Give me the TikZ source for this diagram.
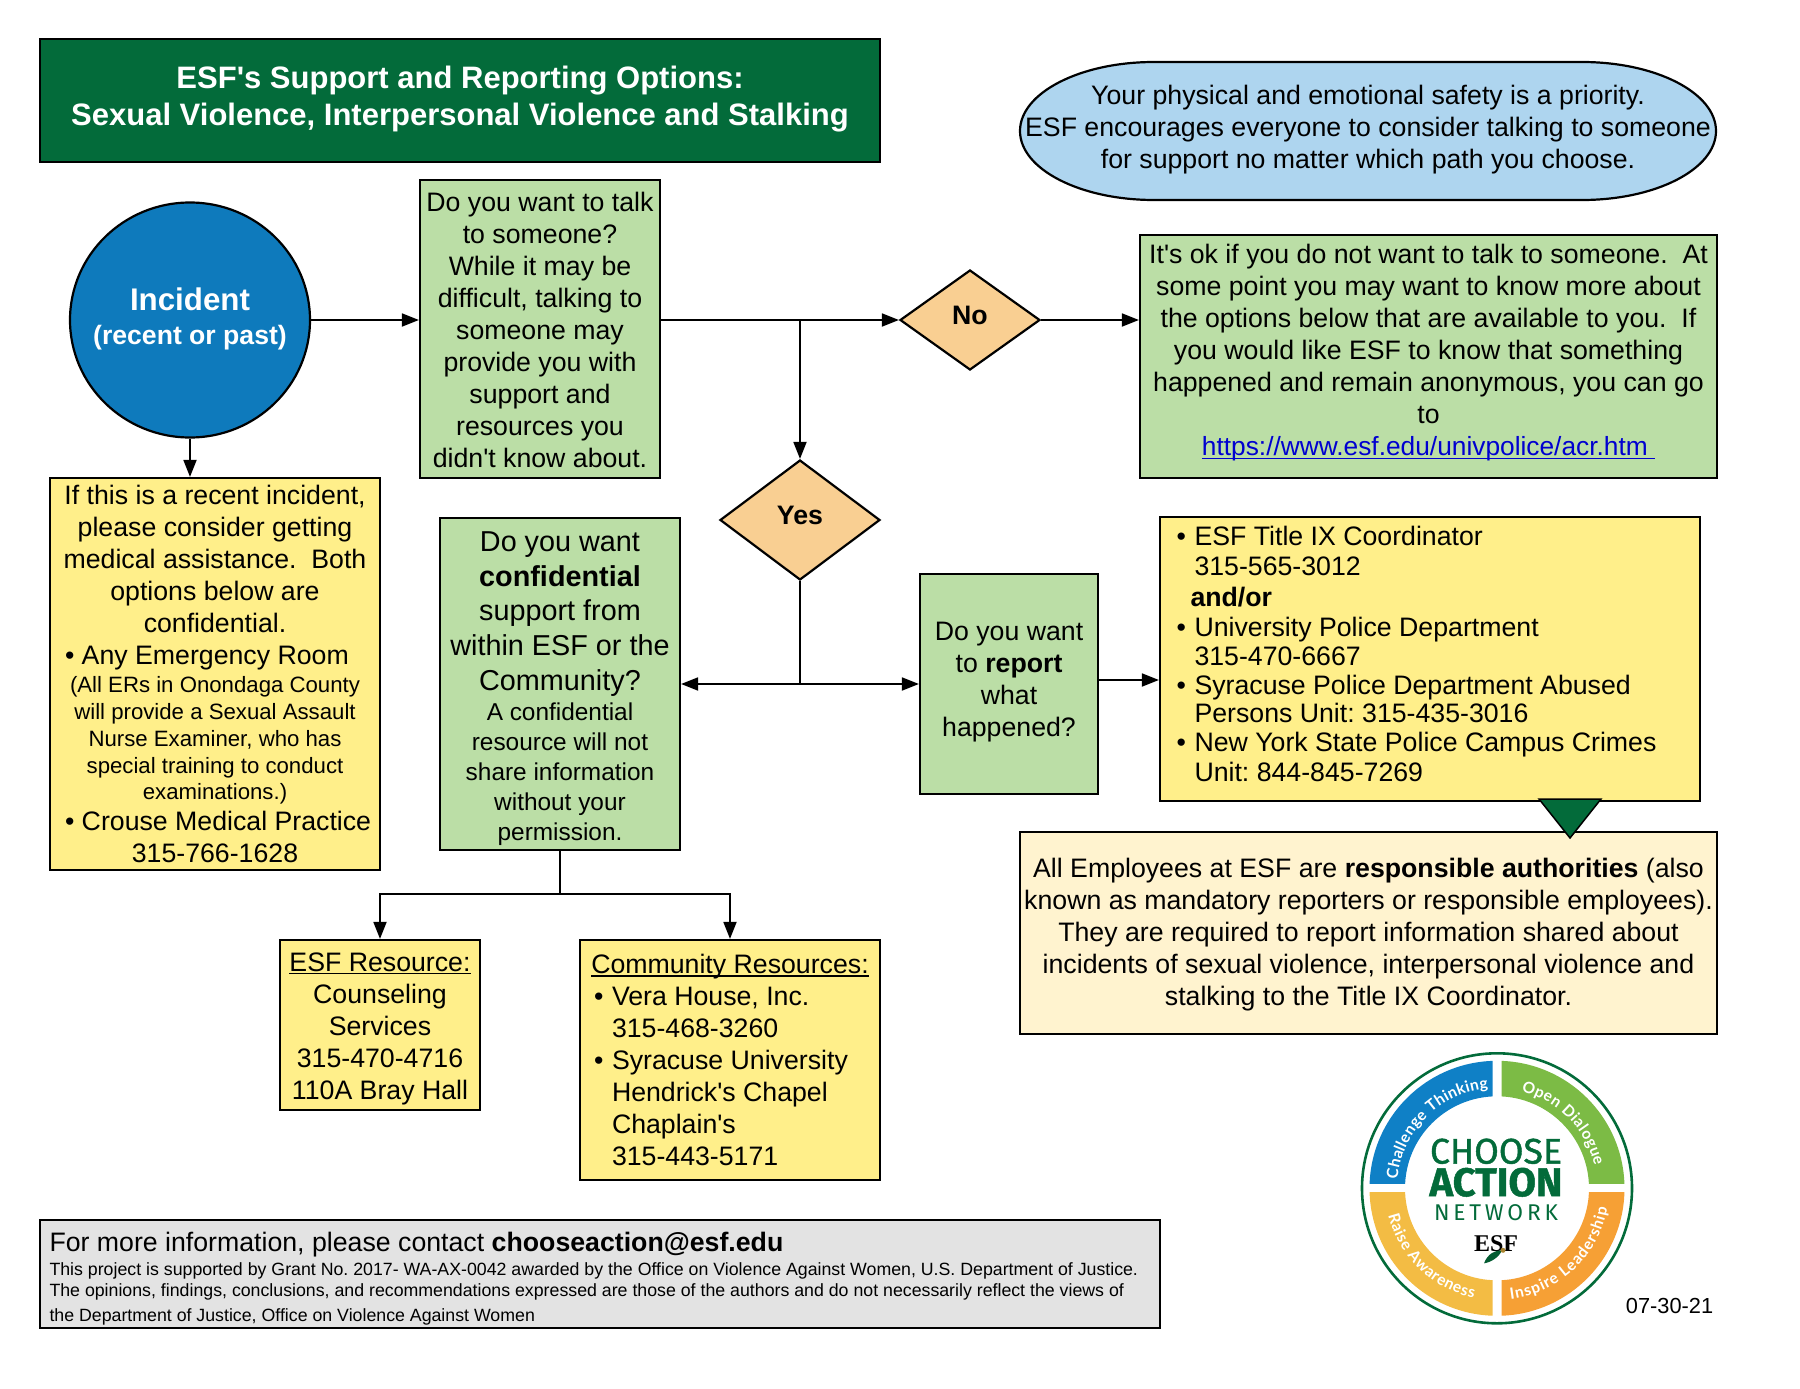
\documentclass[tikz,border=0pt]{standalone}
\usepackage{fontspec}
\usepackage{graphicx}
\setmainfont{Liberation Sans}[Ligatures=TeXOff]
\newfontfamily\firafont{Fira Sans}
\newfontfamily\firafat{Fira Sans}[FakeBold=1.2]
\newfontfamily\latofont{Lato}
\newfontfamily\serfont{Liberation Serif}
\usetikzlibrary{arrows.meta,shapes.geometric,decorations.text}
\definecolor{esfgreen}{HTML}{036B3A}
\definecolor{boxgreen}{HTML}{BBDEA6}
\definecolor{boxyellow}{HTML}{FFEF8A}
\definecolor{boxcream}{HTML}{FFF3CF}
\definecolor{skyblue}{HTML}{AED5EF}
\definecolor{incblue}{HTML}{0E7ABC}
\definecolor{diamondorange}{HTML}{F9CF92}
\definecolor{boxgray}{HTML}{E3E3E3}
\definecolor{linkblue}{HTML}{0000D0}
\definecolor{logoblue}{HTML}{0F80C6}
\definecolor{logogreen}{HTML}{7CBB45}
\definecolor{logogold}{HTML}{F3BC44}
\definecolor{logoorange}{HTML}{F6A035}
\AtBeginDocument{\frenchspacing}
\newcommand\fs[2]{\fontsize{#1}{#2}\selectfont}
\newcommand\Tx[3]{\begin{minipage}{#1}\centering #3\par\vspace{#2}\end{minipage}}
\newcommand\TxL[3]{\begin{minipage}{#1}\raggedright #3\par\vspace{#2}\end{minipage}}
\newcommand\ulx[1]{\leavevmode\setbox0\hbox{#1}\rlap{\rule[-3pt]{\wd0}{1.4pt}}\box0}
\tikzset{
  base/.style={draw=black,line width=2.2pt,inner sep=0pt,align=center,font=\fs{26.7}{32}},
  greenbox/.style={base,fill=boxgreen},
  yellowbox/.style={base,fill=boxyellow},
  choice/.style={base,diamond,fill=diamondorange,font=\fs{26.7}{32}\bfseries,text height=19pt,text depth=10pt},
  link/.style={-{Triangle[length=17pt,width=13pt]},line width=1.8pt,draw=black},
  plainline/.style={line width=1.8pt,draw=black},
  ringtext/.style={decorate,decoration={text along path,text align={fit to path},
     text={|\latofont\bfseries\fontsize{15.6}{18}\selectfont\color{white}|#1}}}
}
\begin{document}
\begin{tikzpicture}[x=1pt,y=-1pt]
\useasboundingbox (0,0) rectangle (1800,1389);

% title
\node[base,fill=esfgreen,text=white,minimum width=840,minimum height=123,font=\fs{31}{37.5}\bfseries] (title) at (460,100.5)
  {\Tx{830pt}{3pt}{ESF's Support and Reporting Options:\\ Sexual Violence, Interpersonal Violence and Stalking}};

% safety stadium
\draw[line width=2.2pt,fill=skyblue] (1154,62) -- (1582,62)
   arc[start angle=90,end angle=-90,x radius=134pt,y radius=69pt] -- (1154,200)
   arc[start angle=-90,end angle=-270,x radius=134pt,y radius=69pt] -- cycle;
\node[align=center,inner sep=0pt,font=\fs{26.7}{32}] (safety) at (1368,129.5)
  {Your physical and emotional safety is a priority.\\ ESF encourages everyone to consider talking to someone\\ for support no matter which path you choose.};

% incident
\node[base,ellipse,fill=incblue,text=white,minimum width=240,minimum height=235] (incident) at (190,320)
  {\makebox[140pt][c]{\Tx{200pt}{2pt}{\bfseries\fs{31.3}{34}Incident\\ \fs{26.6}{34}(recent or past)}}};

% talk box
\node[greenbox,minimum width=240,minimum height=298] (talk) at (540,329)
  {\Tx{236pt}{-2pt}{Do you want to talk\\ to someone?\\ While it may be\\ difficult, talking to\\ someone may\\ provide you with\\ support and\\ resources you\\ didn't know about.}};

% diamonds
\node[choice,minimum width=140,minimum height=100] (no) at (970,320) {No};
\node[choice,minimum width=160,minimum height=120] (yes) at (800,520) {Yes};

% right green
\node[greenbox,minimum width=577,minimum height=243] (okbox) at (1428.5,356.5)
  {\Tx{570pt}{7pt}{It's ok if you do not want to talk to someone.\ \ At\\ some point you may want to know more about\\ the options below that are available to you.\ \ If\\ you would like ESF to know that something\\ happened and remain anonymous, you can go\\ to\\ \fs{26.3}{32}\textcolor{linkblue}{\ulx{https://www.esf.edu/univpolice/acr.htm\ }}}};

% left yellow
\node[yellowbox,minimum width=330,minimum height=392] (medical) at (215,674)
  {\Tx{310pt}{0pt}{If this is a recent incident,\\ please consider getting\\ medical assistance.\ \ Both\\ options below are\\ confidential.\par
   \makebox[310pt][l]{\hspace*{5pt}• Any Emergency Room}\par\vspace{1.5pt}
   \fs{22.2}{26.7}(All ERs in Onondaga County\\ will provide a Sexual Assault\\ Nurse Examiner, who has\\ special training to conduct\\ examinations.)\par\vspace{-1.5pt}
   \fs{26.7}{32}\makebox[310pt][l]{\hspace*{5pt}• Crouse Medical Practice}\\ 315-766-1628}};

% confidential
\node[greenbox,minimum width=240,minimum height=332] (conf) at (560,684)
  {\Tx{236pt}{-9pt}{\fs{28.8}{34.6}Do you want\\ \textbf{confidential}\\ support from\\ within ESF or the\\ Community?\par
   \fs{24.4}{30}A confidential\\ resource will not\\ share information\\ without your\\ permission.}};

% report
\node[greenbox,minimum width=178,minimum height=220] (report) at (1009,684)
  {\Tx{175pt}{4pt}{Do you want\\ to \textbf{report}\\ what\\ happened?}};

% report options
\node[yellowbox,minimum width=540,minimum height=284] (options) at (1430,659)
  {\TxL{507pt}{10pt}{\fs{26.7}{29.3}\makebox[18pt][l]{•}ESF Title IX Coordinator\\
   \hspace*{18pt}315-565-3012\\[1.7pt]
   \hspace*{14pt}\textbf{and/or}\\[0.7pt]
   \makebox[18pt][l]{•}University Police Department\\
   \hspace*{18pt}315-470-6667\\
   \makebox[18pt][l]{•}Syracuse Police Department Abused\\[-1.3pt]
   \hspace*{18pt}Persons Unit: 315-435-3016\\
   \makebox[18pt][l]{•}New York State Police Campus Crimes\\
   \hspace*{18pt}Unit: 844-845-7269}};

% responsible authorities
\node[base,fill=boxcream,minimum width=697,minimum height=202] (resp) at (1368.5,933)
  {\Tx{690pt}{-3pt}{All Employees at ESF are \textbf{responsible authorities} (also\\ known as mandatory reporters or responsible employees).\\ They are required to report information shared about\\ incidents of sexual violence, interpersonal violence and\\ stalking to the Title IX Coordinator.}};
\draw[line width=1.5pt,fill=esfgreen] (1539,799) -- (1601,799) -- (1570,838) -- cycle;

% resources
\node[yellowbox,minimum width=200,minimum height=170] (esfres) at (380,1025)
  {\Tx{196pt}{-7pt}{\ulx{ESF Resource:}\\ Counseling\\ Services\\ 315-470-4716\\ 110A Bray Hall}};
\node[yellowbox,minimum width=300,minimum height=240] (commres) at (730,1060)
  {\TxL{272pt}{0pt}{\makebox[272pt][c]{\ulx{Community Resources:}}\\
   \makebox[18pt][l]{•}Vera House, Inc.\\
   \hspace*{18pt}315-468-3260\\
   \makebox[18pt][l]{•}Syracuse University\\
   \hspace*{18pt}Hendrick's Chapel\\
   \hspace*{18pt}Chaplain's\\
   \hspace*{18pt}315-443-5171}};

% footer
\node[base,fill=boxgray,minimum width=1120,minimum height=108] (footer) at (600,1274)
  {\TxL{1101pt}{-9pt}{For more information, please contact \textbf{chooseaction@esf.edu}\par
   \fs{17.75}{23}\vspace{1pt}This project is supported by Grant No. 2017- WA-AX-0042 awarded by the Office on Violence Against Women, U.S. Department of Justice.\\[-1.5pt]
   The opinions, findings, conclusions, and recommendations expressed are those of the authors and do not necessarily reflect the views of\\[1.5pt]
   the Department of Justice, Office on Violence Against Women}};

% connectors
\draw[link] (incident.east) -- (incident.east -| talk.west);
\draw[plainline] (talk.east |- no.west) -- (yes.north |- no.west) coordinate (split);
\draw[link] (split) -- (no.west);
\draw[link] (split) -- (yes.north);
\draw[link] (no.east) -- (no.east -| okbox.west);
\draw[link] (incident.south) -- (incident.south |- medical.north);
\coordinate (fork) at (yes.south |- conf.east);
\draw[plainline] (yes.south) -- (fork);
\draw[link] (fork) -- (conf.east);
\draw[link] (fork) -- (report.west);
\draw[link] ([yshift=4pt]report.east) -- ([yshift=4pt]report.east -| options.west);
\coordinate (drop) at (560,894);
\draw[plainline] (conf.south) -- (drop);
\draw[link] (drop) -| (esfres.north);
\draw[link] (drop) -| (commres.north);

% logo
\begin{scope}[y=1pt,shift={(1497,-1188.3)}]
  \draw[esfgreen,line width=2.6pt] (0,0) circle (135);
  \begin{scope}\clip (-130,4.5) rectangle (-4.5,130);
    \fill[logoblue,even odd rule] (0,0) circle (127.5) (0,0) circle (92);\end{scope}
  \begin{scope}\clip (4.5,4.5) rectangle (130,130);
    \fill[logogreen,even odd rule] (0,0) circle (127.5) (0,0) circle (92);\end{scope}
  \begin{scope}\clip (-130,-4.5) rectangle (-4.5,-130);
    \fill[logogold,even odd rule] (0,0) circle (127.5) (0,0) circle (92);\end{scope}
  \begin{scope}\clip (4.5,-4.5) rectangle (130,-130);
    \fill[logoorange,even odd rule] (0,0) circle (127.5) (0,0) circle (92);\end{scope}
  \path[ringtext={Challenge Thinking}] (175:100) arc[start angle=175,end angle=95,radius=100];
  \path[ringtext={Open Dialogue}] (76:100) arc[start angle=76,end angle=13,radius=100];
  \path[ringtext={Raise Awareness}] (194:112) arc[start angle=194,end angle=258,radius=112];
  \path[ringtext={Inspire Leadership}] (277:112) arc[start angle=277,end angle=350,radius=112];
  \node[inner sep=0pt,text=esfgreen] (logochoose) at (-1,37)
     {\resizebox{132pt}{!}{\firafat\fontsize{34.8}{40}\selectfont CHOOSE}};
  \node[inner sep=0pt,text=esfgreen] (logoaction) at (-1,6)
     {\resizebox{133pt}{!}{\firafat\bfseries\fontsize{34.8}{40}\selectfont ACTION}};
  \node[inner sep=0pt,text=esfgreen] (logonetwork) at (-1,-24)
     {\resizebox{124pt}{!}{\firafont\fontsize{22}{26}\selectfont N\,E\,T\,W\,O\,R\,K}};
  \node[inner sep=0pt,text=black] (logoesf) at (-1,-55)
     {\resizebox{44pt}{!}{\serfont\bfseries\fontsize{26}{30}\selectfont ESF}};
  \fill[esfgreen!85!black] (-13,-75) .. controls (-9,-65) and (-2,-62) .. (5,-62)
     .. controls (2,-69) and (-6,-74) .. (-13,-75) -- cycle;
  \fill[logogold!70!black] (6,-62) circle (2.5);
\end{scope}
\node[inner sep=0pt,font=\fs{21.8}{26}] (datestamp) at (1669.5,1306) {07-30-21};
\end{tikzpicture}
\end{document}
